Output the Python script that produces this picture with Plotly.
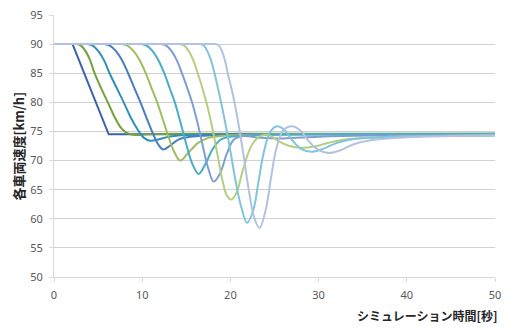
import plotly.graph_objects as go

# Speed [km/h] of each vehicle over simulation time [s]
car1_t = [0, 2.1, 6.2, 50]
car1_v = [90, 90, 74.5, 74.5]

car2_t = [0, 1.6, 2.6, 3.1, 3.6, 4.1, 4.6, 5.35, 6.1, 6.9, 7.6, 8.3, 9.2, 10.5, 13, 50]
car2_v = [90, 90, 90, 89.7, 88.75, 87.2, 85, 82.4, 80, 77.4, 75.6, 74.7, 74.4, 74.5, 74.6, 74.6]

car3_t = [0, 2.8, 3.8, 4.43, 5.05, 5.68, 6.3, 7.1, 7.9, 8.7, 9.5, 10.2, 10.9, 11.8, 13, 15, 20, 50]
car3_v = [90, 90, 90, 89.7, 88.75, 87.2, 85, 82.5, 80, 77.4, 75.3, 73.9, 73.4, 73.6, 74.1, 74.4, 74.5, 74.6]

car4_t = [0, 4.7, 5.7, 6.38, 7.05, 7.73, 8.4, 9.1, 9.8, 10.5, 11.2, 11.8, 12.4, 13.1, 14.1, 15.5, 17.5, 22, 50]
car4_v = [90, 90, 90, 89.7, 88.75, 87.2, 85, 82.5, 80, 77.3, 74.7, 72.8, 71.9, 72.5, 73.6, 74.1, 74.3, 74.5, 74.5]

car5_t = [0, 6.7, 7.7, 8.38, 9.05, 9.73, 10.4, 11.05, 11.7, 12.35, 13.0, 13.6, 14.3, 15.1, 16.3, 17.5, 19.5, 25, 50]
car5_v = [90, 90, 90, 89.7, 88.75, 87.2, 85, 82.5, 80, 77, 74, 71.6, 70.0, 71.1, 73.0, 73.9, 74.3, 74.5, 74.5]

car6_t = [0, 8.9, 9.9, 10.55, 11.2, 11.85, 12.5, 13.1, 13.7, 14.35, 15.0, 15.7, 16.4, 17.2, 18.0, 18.9, 20, 22, 27, 50]
car6_v = [90, 90, 90, 89.7, 88.75, 87.2, 85, 82.5, 80, 76.5, 72.8, 69.4, 67.7, 69.5, 72, 73.6, 74.1, 74.3, 74.5, 74.5]

car7_t = [0, 11.2, 12.2, 12.78, 13.35, 13.93, 14.5, 15.1, 15.65, 16.3, 16.9, 17.5, 18.1, 18.8, 19.6, 20.4, 21.5, 23.5, 26, 30, 36, 50]
car7_v = [90, 90, 90, 89.7, 88.75, 87.2, 85, 82.5, 80, 76.3, 72.3, 68.6, 66.4, 67.7, 71.2, 73.6, 74.2, 73.9, 73.8, 74.1, 74.3, 74.4]

car8_t = [0, 13.3, 14.3, 14.8, 15.3, 15.8, 16.3, 16.85, 17.4, 17.95, 18.5, 19.1, 19.6, 20.1, 20.7, 21.4, 22.3, 23.0, 23.8, 24.6, 25.5, 26.7, 28, 29.5, 31, 33, 37, 42, 50]
car8_v = [90, 90, 90, 89.7, 88.75, 87.2, 85, 82.3, 79.3, 75.6, 71.3, 66.6, 64.0, 63.3, 64.5, 68.3, 72.3, 73.8, 74.4, 74.2, 73.3, 72.5, 72.2, 72.4, 73.0, 73.6, 74.0, 74.2, 74.3]

car9_t = [0, 15.6, 16.6, 17.0, 17.4, 17.8, 18.2, 18.8, 19.4, 20.0, 20.6, 21.2, 21.9, 22.6, 23.2, 23.8, 24.5, 25.3, 26.1, 27.0, 28.0, 29.2, 30.5, 32, 34, 37, 42, 50]
car9_v = [90, 90, 90, 89.7, 88.75, 87.2, 85, 81, 76.6, 71.6, 66.4, 62.2, 59.3, 61.5, 66.5, 71.5, 74.9, 75.9, 75.3, 73.5, 72, 71.5, 72, 73, 73.7, 74.0, 74.2, 74.3]

car10_t = [0, 17.4, 18.4, 18.73, 19.05, 19.38, 19.7, 20.3, 20.9, 21.5, 22.1, 22.7, 23.3, 24.0, 24.6, 25.2, 26.0, 27.0, 27.9, 28.8, 29.8, 31.1, 32.5, 34, 36.5, 40, 45, 50]
car10_v = [90, 90, 90, 89.7, 88.75, 87.2, 85, 81.2, 76.4, 70.8, 64.8, 60.2, 58.4, 61.5, 67, 72, 75.2, 75.9, 75.2, 73.5, 72.0, 71.3, 71.8, 72.8, 73.6, 74.0, 74.2, 74.3]

x_ticks = [0, 10, 20, 30, 40, 50]
y_ticks = [50, 55, 60, 65, 70, 75, 80, 85, 90, 95]

x_title = "シミュレーション時間[秒]"
y_title = "各車両速度[km/h]"

series = [
    (car1_t, car1_v, "#3A63A8", "linear"),
    (car2_t, car2_v, "#76A13E", "spline"),
    (car3_t, car3_v, "#2F92B2", "spline"),
    (car4_t, car4_v, "#4B7DC2", "spline"),
    (car5_t, car5_v, "#9DBE5C", "spline"),
    (car6_t, car6_v, "#4BACC6", "spline"),
    (car7_t, car7_v, "#7E9ED2", "spline"),
    (car8_t, car8_v, "#B4CF80", "spline"),
    (car9_t, car9_v, "#80C5D9", "spline"),
    (car10_t, car10_v, "#B2C2E2", "spline"),
]

fig = go.Figure()
for i, (t, v, color, shape) in enumerate(series, start=1):
    fig.add_trace(go.Scatter(
        x=t, y=v, mode="lines", name=f"車両{i}",
        line=dict(color=color, width=2, shape=shape, smoothing=1.0),
        hoverinfo="skip",
    ))

tick_font = dict(family="Noto Sans, DejaVu Sans, sans-serif", size=11, color="#595959")
title_font = dict(family="Noto Sans CJK JP, sans-serif", size=12, color="#262626")

fig.update_layout(
    width=508, height=327,
    margin=dict(l=54, r=7, t=14, b=50),
    paper_bgcolor="white", plot_bgcolor="white",
    showlegend=False,
    xaxis=dict(
        range=[0, 50], tickvals=x_ticks, showgrid=False, zeroline=False,
        showline=True, linecolor="#D9D9D9", linewidth=1,
        ticks="outside", ticklen=4, tickcolor="#D9D9D9",
        tickfont=tick_font, ticklabelstandoff=4,
    ),
    yaxis=dict(
        range=[50, 95], tickvals=y_ticks, showgrid=True, gridcolor="#D0D0D0",
        gridwidth=1, zeroline=False,
        showline=True, linecolor="#D9D9D9", linewidth=1,
        ticks="outside", ticklen=4, tickcolor="#D9D9D9",
        tickfont=tick_font, ticklabelstandoff=4,
    ),
    annotations=[
        dict(text="<b>" + x_title + "</b>", xref="paper", yref="paper",
             x=1, y=-0.148, xanchor="right", yanchor="middle", xshift=5,
             showarrow=False, font=title_font),
        dict(text="<b>" + y_title + "</b>", xref="paper", yref="paper",
             x=-0.0805, y=0.5, xanchor="center", yanchor="middle", textangle=-90,
             showarrow=False, font=dict(family="Noto Sans CJK JP, sans-serif", size=13, color="#262626")),
    ],
)

fig.write_html("out.html")
